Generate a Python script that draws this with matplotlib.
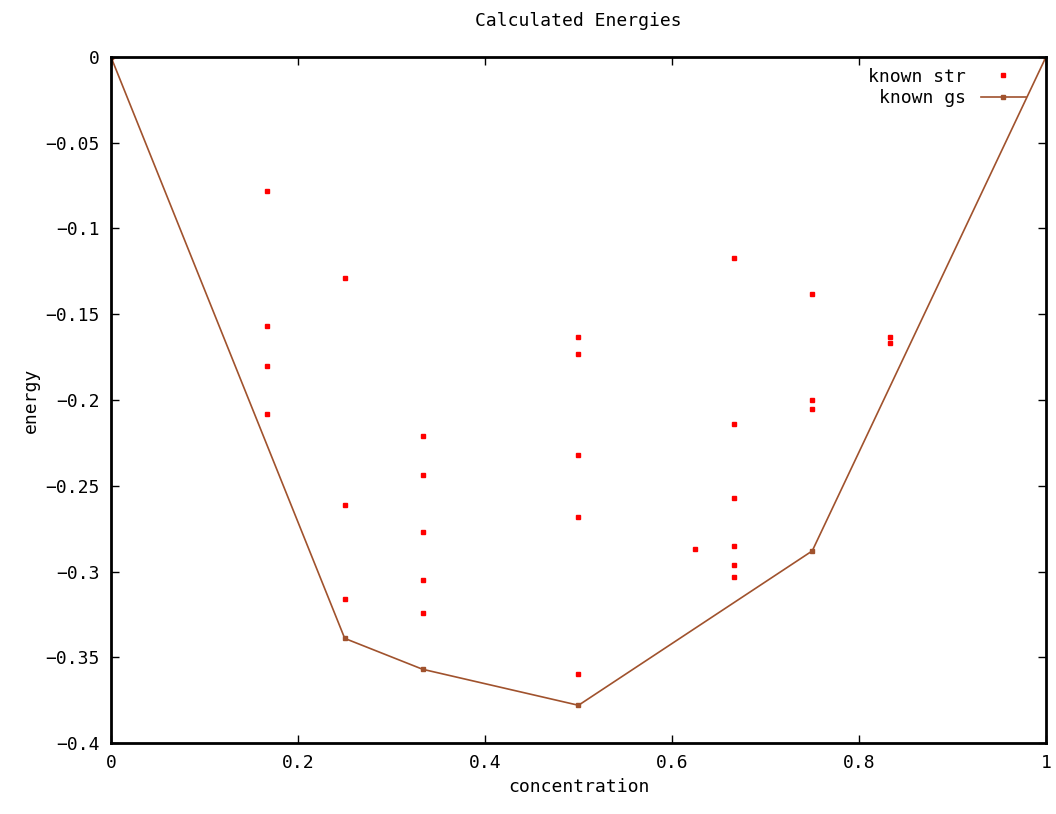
import matplotlib
matplotlib.use("Agg")
import matplotlib.pyplot as plt

# known structures (concentration, energy)
str_x = [0.0, 0.1667, 0.1667, 0.1667, 0.1667,
         0.25, 0.25, 0.25,
         0.3333, 0.3333, 0.3333, 0.3333, 0.3333,
         0.5, 0.5, 0.5, 0.5, 0.5,
         0.625,
         0.6667, 0.6667, 0.6667, 0.6667, 0.6667, 0.6667,
         0.75, 0.75, 0.75,
         0.8333, 0.8333, 1.0]
str_e = [0.0, -0.078, -0.157, -0.180, -0.208,
         -0.129, -0.261, -0.316,
         -0.221, -0.244, -0.277, -0.305, -0.324,
         -0.163, -0.173, -0.232, -0.268, -0.360,
         -0.287,
         -0.117, -0.214, -0.257, -0.285, -0.296, -0.303,
         -0.138, -0.200, -0.205,
         -0.163, -0.167, 0.0]

# ground state hull
gs_x = [0.0, 0.25, 0.3333, 0.5, 0.75, 1.0]
gs_e = [0.0, -0.339, -0.357, -0.378, -0.288, 0.0]

xticks = [0, 0.2, 0.4, 0.6, 0.8, 1]
xlabels = ['0', '0.2', '0.4', '0.6', '0.8', '1']
yticks = [0, -0.05, -0.1, -0.15, -0.2, -0.25, -0.3, -0.35, -0.4]
ylabels = ['0', '\u22120.05', '\u22120.1', '\u22120.15', '\u22120.2',
           '\u22120.25', '\u22120.3', '\u22120.35', '\u22120.4']

plt.rcParams['font.family'] = ['DejaVu Sans Mono']
fig = plt.figure(figsize=(10.56, 8.14), dpi=100)
ax = fig.add_axes([0.1051, 0.0872, 0.8854, 0.8428])

ax.plot(str_x, str_e, linestyle='none', marker='s', markersize=2.5,
        color='#ff0000', label='known str')
ax.plot(gs_x, gs_e, color='#a0522d', linewidth=1.2, marker='s',
        markersize=3.5, label='known gs')

ax.set_xlim(0, 1)
ax.set_ylim(-0.4, 0)
ax.set_xticks(xticks)
ax.set_xticklabels(xlabels)
ax.set_yticks(yticks)
ax.set_yticklabels(ylabels)
ax.tick_params(direction='in', top=True, right=True, length=6, width=1,
               labelsize=13, pad=8)
for s in ax.spines.values():
    s.set_linewidth(2)

ax.set_xlabel('concentration', fontsize=13)
ax.set_ylabel('energy', fontsize=13)
ax.set_title('Calculated Energies', fontsize=13, pad=22)

ax.legend(loc='upper right', frameon=False, markerfirst=False, fontsize=13,
          handlelength=2.5, borderaxespad=0.2, labelspacing=0.2,
          bbox_to_anchor=(0.99, 1.0))

fig.savefig('out.png', dpi=100)
